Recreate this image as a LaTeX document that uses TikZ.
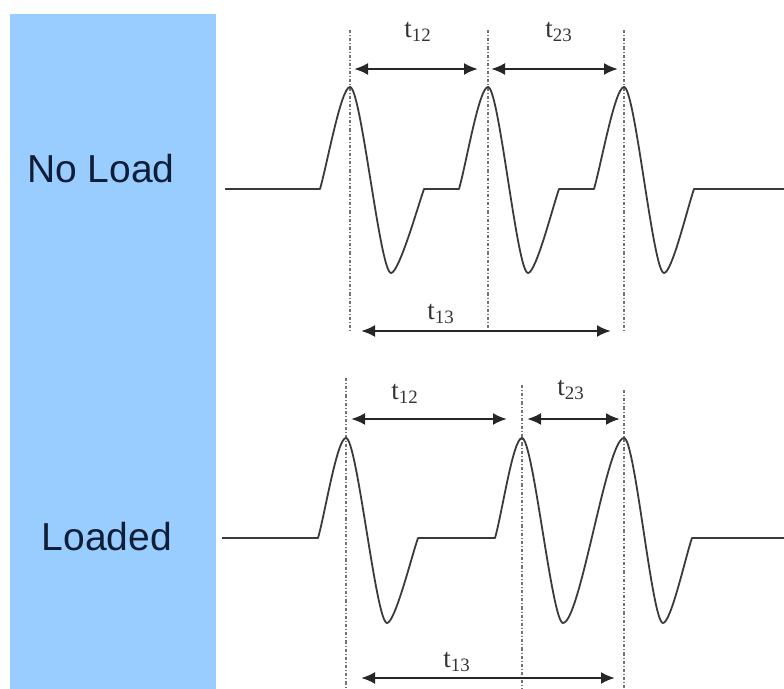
\documentclass[tikz,border=0pt]{standalone}
\usepackage{fontspec}
\setmainfont{Liberation Serif}
\newfontfamily\captionfont{Liberation Sans}
\usetikzlibrary{arrows.meta}
\definecolor{panelblue}{HTML}{99CCFF}
\definecolor{captionnavy}{HTML}{0F1E36}
\definecolor{tracegray}{HTML}{3A3A3A}

\begin{document}
\begin{tikzpicture}[
    x=0.5pt, y=-0.5pt,
    caption/.style={font=\captionfont\fontsize{19.5}{22}\selectfont, text=captionnavy, inner sep=0pt},
    tlabel/.style={font=\fontsize{13.5}{15}\selectfont, text=black!80, inner sep=0pt},
    marker/.style={draw=black!55, line width=0.7pt, dash pattern=on 1.6pt off 1pt on 0.5pt off 1pt},
    wave/.style={draw=tracegray, line width=0.9pt, line join=round},
    span/.style={{Latex[length=7pt,width=6pt]}-{Latex[length=7pt,width=6pt]}, line width=1.2pt, draw=black!85}
  ]
    \useasboundingbox (0,0) rectangle (784,689);
    \fill[panelblue] (10,14) rectangle (216,689);

    \node[caption] (noload) at (101,169) {No Load};
    \node[caption] (loaded) at (107,537) {Loaded};

    % no load trace
    \draw[marker] (350,30) -- (350,333);
    \draw[marker] (488,30) -- (488,330);
    \draw[marker] (624,30) -- (624,333);
    \draw[wave] (225,189) -- (320,189)
      .. controls +(7,-24) and +(-9,0) .. (350,87)
      .. controls +(11,0) and +(-11,0) .. (391,273)
      .. controls +(8,0) and +(-6,17) .. (424,189) -- (459,189)
      .. controls +(7,-24) and +(-9,0) .. (488,87)
      .. controls +(11,0) and +(-11,0) .. (528,273)
      .. controls +(8,0) and +(-6,17) .. (559,189) -- (594,189)
      .. controls +(7,-24) and +(-9,0) .. (624,87)
      .. controls +(11,0) and +(-11,0) .. (664,273)
      .. controls +(8,0) and +(-6,17) .. (694,189) -- (784,189);

    \coordinate (na1) at (354,69);
    \coordinate (na2) at (478,69);
    \coordinate (nb1) at (491,69);
    \coordinate (nb2) at (618,69);
    \coordinate (nc1) at (361,331);
    \coordinate (nc2) at (611,331);
    \draw[span] (na1) -- (na2);
    \draw[span] (nb1) -- (nb2);
    \draw[span] (nc1) -- (nc2);
    \node[tlabel] (nt12) at (418,32) {t\textsubscript{12}};
    \node[tlabel] (nt23) at (559,32) {t\textsubscript{23}};
    \node[tlabel] (nt13) at (441,314) {t\textsubscript{13}};

    % loaded trace
    \draw[marker] (346,378) -- (346,689);
    \draw[marker] (522,385) -- (522,689);
    \draw[marker] (624,390) -- (624,689);
    \draw[wave] (222,538) -- (318,538)
      .. controls +(7,-24) and +(-9,0) .. (346,438)
      .. controls +(11,0) and +(-11,0) .. (387,623)
      .. controls +(8,0) and +(-6,17) .. (418,538) -- (495,538)
      .. controls +(7,-24) and +(-9,0) .. (522,438)
      .. controls +(11,0) and +(-11,0) .. (563,623)
      .. controls +(17,0) and +(-17,0) .. (624,438)
      .. controls +(11,0) and +(-11,0) .. (663,623)
      .. controls +(8,0) and +(-6,17) .. (692,538) -- (784,538);

    \coordinate (la1) at (351,419);
    \coordinate (la2) at (507,419);
    \coordinate (lb1) at (527,419);
    \coordinate (lb2) at (620,419);
    \coordinate (lc1) at (361,678);
    \coordinate (lc2) at (615,678);
    \draw[span] (la1) -- (la2);
    \draw[span] (lb1) -- (lb2);
    \draw[span] (lc1) -- (lc2);
    \node[tlabel] (lt12) at (405,394) {t\textsubscript{12}};
    \node[tlabel] (lt23) at (571,390) {t\textsubscript{23}};
    \node[tlabel] (lt13) at (457,662) {t\textsubscript{13}};
  \end{tikzpicture}
\end{document}
